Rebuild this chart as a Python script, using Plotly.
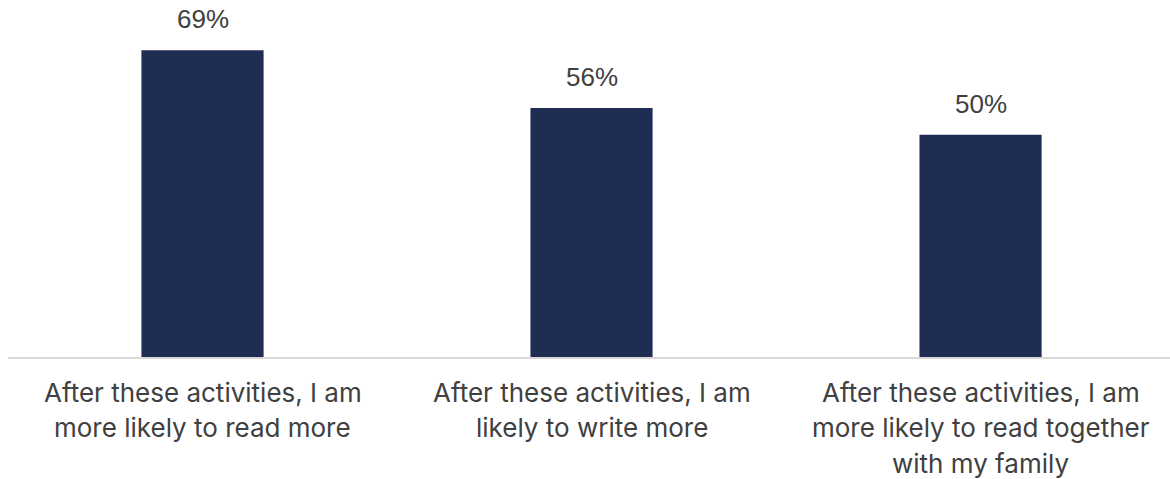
import plotly.graph_objects as go

categories = ["cat1", "cat2", "cat3"]
category_label_lines = [
    ["After these activities, I am", "more likely to read more"],
    ["After these activities, I am", "likely to write more"],
    ["After these activities, I am", "more likely to read together", "with my family"],
]
values = [69, 56, 50]
value_labels = ["69%", "56%", "50%"]

bar_color = "#1F2C54"
text_color = "#404040"

fig = go.Figure()
fig.add_trace(go.Bar(x=categories, y=values, marker=dict(color=bar_color, line=dict(width=0)),
                     width=0.314, hoverinfo="skip"))

for c, v, t in zip(categories, values, value_labels):
    fig.add_annotation(x=c, y=v, xref="x", yref="y", text=t, showarrow=False,
                       yanchor="bottom", yshift=14,
                       font=dict(family="Liberation Sans, Arial", size=26, color=text_color))

line_gap = 35.5
for c, lines in zip(categories, category_label_lines):
    for i, line in enumerate(lines):
        fig.add_annotation(x=c, y=0, xref="x", yref="paper", text=line, showarrow=False,
                           yanchor="middle", yshift=-(35 + i * line_gap), align="center",
                           font=dict(family="Inter", size=26, color=text_color))

fig.update_layout(
    width=1170, height=479,
    margin=dict(l=8, r=0, t=0, b=122),
    plot_bgcolor="white", paper_bgcolor="white",
    showlegend=False,
    xaxis=dict(range=[-0.5, 2.487], showticklabels=False, showline=True, linecolor="#D9D9D9",
               linewidth=2, ticks="", showgrid=False, zeroline=False),
    yaxis=dict(range=[0, 80.3], visible=False, showgrid=False, zeroline=False),
)

fig.write_html("out.html")
